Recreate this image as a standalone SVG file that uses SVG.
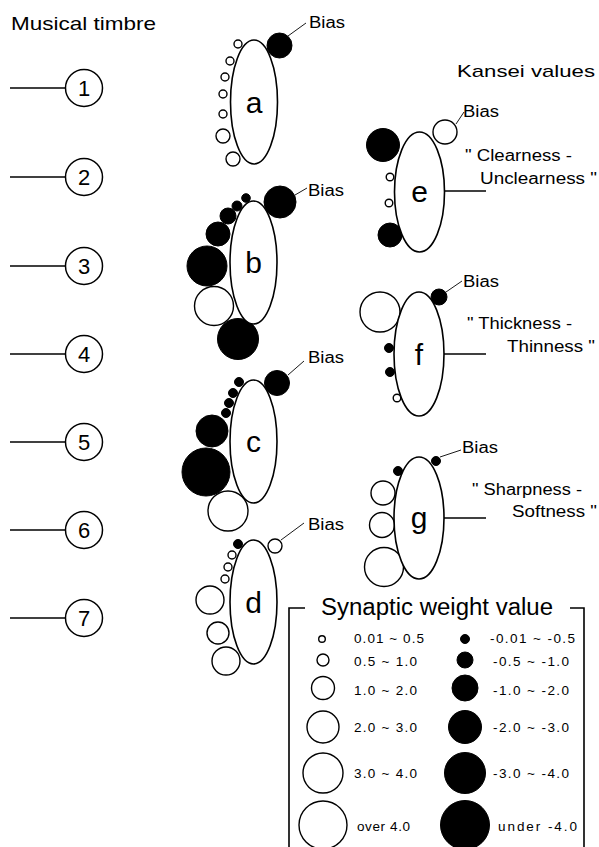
<svg xmlns="http://www.w3.org/2000/svg" width="599" height="847" viewBox="0 0 599 847">
<style>
text{font-family:"Liberation Sans",Arial,sans-serif;fill:#000}
.in{fill:#fff;stroke:#000;stroke-width:1.5}
.el{fill:#fff;stroke:#000;stroke-width:1.6}
.p{fill:#fff;stroke:#000;stroke-width:1.4}
.n{fill:#000;stroke:#000;stroke-width:1}
.ln{stroke:#000;stroke-width:1.6;fill:none}
.bl{stroke:#000;stroke-width:0.9;fill:none}
.num{font-size:22px;text-anchor:middle}
.let{font-size:30px;text-anchor:middle}
.bias{font-size:16px}
.kt{font-size:16px}
.leg{font-size:13.5px}
</style>
<rect width="599" height="847" fill="#fff"/>
<text x="11" y="30" font-size="18.5" textLength="145" lengthAdjust="spacingAndGlyphs">Musical timbre</text>
<text x="457" y="77" font-size="17" textLength="138" lengthAdjust="spacingAndGlyphs">Kansei values</text>

<g id="connectors">
<line class="ln" x1="10" y1="88" x2="66" y2="88"/>
<line class="ln" x1="10" y1="177" x2="66" y2="177"/>
<line class="ln" x1="10" y1="266" x2="66" y2="266"/>
<line class="ln" x1="10" y1="354" x2="66" y2="354"/>
<line class="ln" x1="10" y1="442" x2="66" y2="442"/>
<line class="ln" x1="10" y1="530" x2="66" y2="530"/>
<line class="ln" x1="10" y1="618" x2="66" y2="618"/>
<line class="ln" x1="445" y1="191" x2="486" y2="191"/>
<line class="ln" x1="444" y1="354" x2="486" y2="354"/>
<line class="ln" x1="444" y1="518" x2="486" y2="518"/>
<line class="bl" x1="288" y1="36" x2="306" y2="23"/>
<line class="bl" x1="295" y1="195" x2="307" y2="188"/>
<line class="bl" x1="288" y1="375" x2="304" y2="361"/>
<line class="bl" x1="281" y1="540" x2="304" y2="523"/>
<line class="bl" x1="456" y1="124" x2="464" y2="112"/>
<line class="bl" x1="446" y1="292" x2="462" y2="281"/>
<line class="bl" x1="440" y1="457" x2="461" y2="450"/>
</g>

<g id="in1"><circle class="in" cx="84" cy="88" r="18.5"/><text class="num" x="84" y="96">1</text></g>
<g id="in2"><circle class="in" cx="84" cy="177" r="18.5"/><text class="num" x="84" y="185">2</text></g>
<g id="in3"><circle class="in" cx="84" cy="266" r="18.5"/><text class="num" x="84" y="274">3</text></g>
<g id="in4"><circle class="in" cx="84" cy="354" r="18.5"/><text class="num" x="84" y="362">4</text></g>
<g id="in5"><circle class="in" cx="84" cy="442" r="18.5"/><text class="num" x="84" y="450">5</text></g>
<g id="in6"><circle class="in" cx="84" cy="530" r="18.5"/><text class="num" x="84" y="538">6</text></g>
<g id="in7"><circle class="in" cx="84" cy="618" r="18.5"/><text class="num" x="84" y="626">7</text></g>

<g id="node-a">
<circle class="p" cx="238" cy="44" r="4"/>
<circle class="p" cx="230" cy="61" r="4"/>
<circle class="p" cx="225" cy="77" r="4"/>
<circle class="p" cx="223" cy="94" r="4"/>
<circle class="p" cx="223" cy="114" r="4"/>
<circle class="p" cx="223" cy="136" r="7"/>
<circle class="p" cx="233" cy="159" r="7"/>
<circle class="n" cx="279.5" cy="45.5" r="12.5"/>
<ellipse class="el" cx="254" cy="102" rx="23.5" ry="62"/>
<text class="let" x="254" y="113">a</text>
<text class="bias" x="309" y="28" textLength="36" lengthAdjust="spacingAndGlyphs">Bias</text>
</g>

<g id="node-b">
<circle class="n" cx="246" cy="198" r="4.3"/>
<circle class="n" cx="237" cy="206" r="5"/>
<circle class="n" cx="228" cy="216" r="8"/>
<circle class="n" cx="218" cy="234" r="12"/>
<circle class="n" cx="207" cy="266" r="20"/>
<circle class="p" cx="214" cy="306" r="19.5"/>
<circle class="n" cx="238" cy="339" r="20.5"/>
<circle class="n" cx="280" cy="202" r="16"/>
<ellipse class="el" cx="253.5" cy="262.5" rx="23.5" ry="61.5"/>
<text class="let" x="253.5" y="273">b</text>
<text class="bias" x="308" y="196" textLength="36" lengthAdjust="spacingAndGlyphs">Bias</text>
</g>

<g id="node-c">
<circle class="n" cx="239" cy="382" r="4.5"/>
<circle class="n" cx="233" cy="393" r="4.5"/>
<circle class="n" cx="229" cy="403" r="4.5"/>
<circle class="n" cx="226" cy="413" r="4.5"/>
<circle class="n" cx="212" cy="431" r="16"/>
<circle class="n" cx="206" cy="472" r="24"/>
<circle class="p" cx="228" cy="511" r="20"/>
<circle class="n" cx="277" cy="383" r="12.5"/>
<ellipse class="el" cx="253.5" cy="441.5" rx="23.5" ry="61.5"/>
<text class="let" x="253.5" y="452">c</text>
<text class="bias" x="308" y="363" textLength="36" lengthAdjust="spacingAndGlyphs">Bias</text>
</g>

<g id="node-d">
<circle class="n" cx="238" cy="544" r="4.5"/>
<circle class="p" cx="232" cy="555" r="4"/>
<circle class="p" cx="228" cy="567" r="4"/>
<circle class="p" cx="225" cy="579" r="4"/>
<circle class="p" cx="210" cy="600" r="14"/>
<circle class="p" cx="218" cy="633" r="11"/>
<circle class="p" cx="226" cy="661" r="14"/>
<circle class="p" cx="275" cy="546" r="7"/>
<ellipse class="el" cx="253.5" cy="602" rx="23.5" ry="62"/>
<text class="let" x="253.5" y="613">d</text>
<text class="bias" x="308" y="530" textLength="36" lengthAdjust="spacingAndGlyphs">Bias</text>
</g>

<g id="node-e">
<circle class="n" cx="383" cy="145" r="16.5"/>
<circle class="p" cx="390" cy="177" r="3.8"/>
<circle class="p" cx="389" cy="203" r="3.8"/>
<circle class="n" cx="390" cy="235" r="12"/>
<circle class="p" cx="445" cy="132" r="12"/>
<ellipse class="el" cx="419.5" cy="192" rx="25" ry="60"/>
<text class="let" x="419.5" y="202">e</text>
<text class="bias" x="463" y="117" textLength="36" lengthAdjust="spacingAndGlyphs">Bias</text>
<text class="kt" x="465" y="161" textLength="107" lengthAdjust="spacingAndGlyphs">" Clearness -</text>
<text class="kt" x="480" y="184" textLength="117" lengthAdjust="spacingAndGlyphs">Unclearness "</text>
</g>

<g id="node-f">
<circle class="p" cx="380" cy="312" r="20"/>
<circle class="n" cx="389" cy="348" r="4.5"/>
<circle class="n" cx="390" cy="372" r="4.5"/>
<circle class="p" cx="397" cy="398" r="3.8"/>
<circle class="n" cx="439" cy="297" r="8"/>
<ellipse class="el" cx="419" cy="354" rx="25" ry="62"/>
<text class="let" x="419" y="365">f</text>
<text class="bias" x="463" y="287" textLength="36" lengthAdjust="spacingAndGlyphs">Bias</text>
<text class="kt" x="467" y="329" textLength="105" lengthAdjust="spacingAndGlyphs">" Thickness -</text>
<text class="kt" x="507" y="352" textLength="88" lengthAdjust="spacingAndGlyphs">Thinness "</text>
</g>

<g id="node-g">
<circle class="n" cx="398" cy="471" r="4.5"/>
<circle class="p" cx="383" cy="493" r="12"/>
<circle class="p" cx="382" cy="525" r="12.5"/>
<circle class="p" cx="384" cy="567" r="19.5"/>
<circle class="n" cx="436" cy="461" r="4.5"/>
<ellipse class="el" cx="419" cy="518" rx="25" ry="61"/>
<text class="let" x="419" y="528">g</text>
<text class="bias" x="462" y="453" textLength="36" lengthAdjust="spacingAndGlyphs">Bias</text>
<text class="kt" x="472" y="495" textLength="110" lengthAdjust="spacingAndGlyphs">" Sharpness -</text>
<text class="kt" x="512" y="517" textLength="85" lengthAdjust="spacingAndGlyphs">Softness "</text>
</g>

<g id="legend">
<polyline class="ln" points="289,847 289,608 305,608" stroke-width="2"/>
<polyline class="ln" points="570,608 584,608 584,847" stroke-width="2"/>
<text x="321" y="615" font-size="23" textLength="232" lengthAdjust="spacingAndGlyphs">Synaptic weight value</text>
<circle class="p" cx="322" cy="639" r="3.3"/>
<circle class="p" cx="323" cy="660" r="6"/>
<circle class="p" cx="323" cy="688" r="11.5"/>
<circle class="p" cx="323" cy="727" r="16"/>
<circle class="p" cx="323" cy="773" r="20"/>
<circle class="p" cx="323" cy="825" r="24"/>
<circle class="n" cx="465" cy="639" r="4.5"/>
<circle class="n" cx="465" cy="660" r="8"/>
<circle class="n" cx="465" cy="688" r="13"/>
<circle class="n" cx="465" cy="727" r="16.5"/>
<circle class="n" cx="465" cy="773" r="20.5"/>
<circle class="n" cx="465" cy="825" r="24.5"/>
<text class="leg" x="354" y="643" textLength="70" lengthAdjust="spacing">0.01 ~ 0.5</text>
<text class="leg" x="354" y="666" textLength="63" lengthAdjust="spacing">0.5 ~ 1.0</text>
<text class="leg" x="354" y="695" textLength="63" lengthAdjust="spacing">1.0 ~ 2.0</text>
<text class="leg" x="354" y="732" textLength="63" lengthAdjust="spacing">2.0 ~ 3.0</text>
<text class="leg" x="354" y="778" textLength="63" lengthAdjust="spacing">3.0 ~ 4.0</text>
<text class="leg" x="357" y="831" textLength="53" lengthAdjust="spacing">over 4.0</text>
<text class="leg" x="490" y="643" textLength="85" lengthAdjust="spacing">-0.01 ~ -0.5</text>
<text class="leg" x="493" y="666" textLength="76" lengthAdjust="spacing">-0.5 ~ -1.0</text>
<text class="leg" x="493" y="695" textLength="76" lengthAdjust="spacing">-1.0 ~ -2.0</text>
<text class="leg" x="493" y="732" textLength="76" lengthAdjust="spacing">-2.0 ~ -3.0</text>
<text class="leg" x="493" y="778" textLength="76" lengthAdjust="spacing">-3.0 ~ -4.0</text>
<text class="leg" x="498" y="831" textLength="79" lengthAdjust="spacing">under -4.0</text>
</g>
</svg>
